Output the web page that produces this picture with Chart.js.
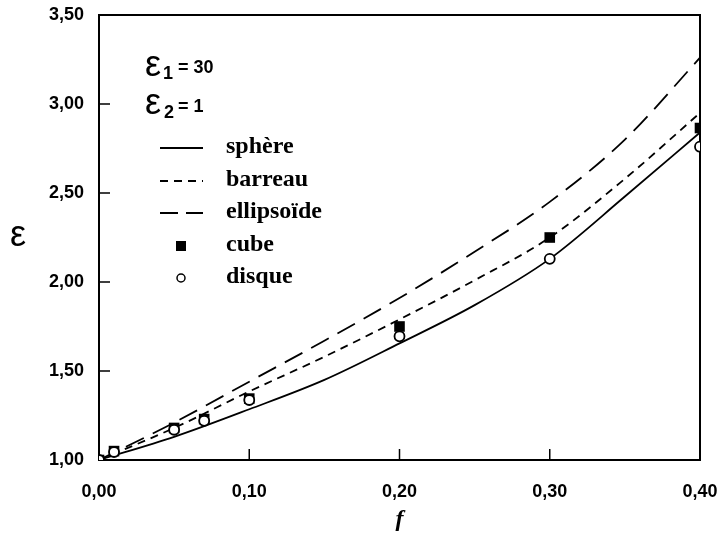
<!DOCTYPE html>
<html><head><meta charset="utf-8">
<script src="https://cdn.jsdelivr.net/npm/chart.js@4.4.0/dist/chart.umd.min.js"></script>
<style>html,body{margin:0;padding:0;background:#fff}#wrap{width:722px;height:543px;position:relative}</style>
</head><body><div id="wrap"><canvas id="c" width="722" height="543" style="width:722px;height:543px"></canvas></div>
<script>
// Curves
const fCurve    = [0, 0.05, 0.10, 0.15, 0.20, 0.25, 0.30, 0.35, 0.40];
const sphere    = [1.00, 1.13, 1.285, 1.45, 1.655, 1.87, 2.13, 2.48, 2.84];
const barreau   = [1.00, 1.18, 1.385, 1.58, 1.79, 2.01, 2.25, 2.58, 2.95];
const ellipsoide= [1.00, 1.21, 1.44, 1.67, 1.91, 2.17, 2.45, 2.80, 3.26];
// Measured points
const fPoints   = [0, 0.01, 0.05, 0.07, 0.10, 0.20, 0.30, 0.40];
const cube      = [1.00, 1.05, 1.18, 1.23, 1.345, 1.75, 2.25, 2.865];
const disque    = [1.00, 1.045, 1.17, 1.22, 1.337, 1.695, 2.13, 2.76];
// Ticks
const xTicks = [0, 0.1, 0.2, 0.3, 0.4];
const yTicks = [1.0, 1.5, 2.0, 2.5, 3.0, 3.5];
const legendLabels = ['sphère', 'barreau', 'ellipsoïde', 'cube', 'disque'];

const pts = (xs, ys) => xs.map((x, i) => ({x, y: ys[i]}));
const fmt = v => Number(v).toFixed(2).replace('.', ',');

const frame = {
  id: 'frame',
  beforeDatasetsDraw(chart) {
    const {ctx, chartArea: a, scales} = chart;
    ctx.save();
    ctx.strokeStyle = '#000';
    ctx.lineWidth = 2;
    ctx.strokeRect(a.left, a.top, a.right - a.left, a.bottom - a.top);
    ctx.lineWidth = 1.5;
    ctx.beginPath();
    xTicks.forEach(v => {
      const px = scales.x.getPixelForValue(v);
      ctx.moveTo(px, a.bottom); ctx.lineTo(px, a.bottom - 11);
    });
    yTicks.forEach(v => {
      const py = scales.y.getPixelForValue(v);
      ctx.moveTo(a.left, py); ctx.lineTo(a.left + 11, py);
    });
    ctx.stroke();
    ctx.restore();
  },
  afterDraw(chart) {
    const ctx = chart.ctx;
    const a = chart.chartArea;
    ctx.save();
    ctx.fillStyle = '#000';
    ctx.strokeStyle = '#000';
    // y axis title (upright)
    ctx.font = '36px "Liberation Sans"';
    ctx.textAlign = 'center';
    ctx.textBaseline = 'middle';
    ctx.fillText('ε', 18, 236);
    ctx.textAlign = 'left';
    ctx.textBaseline = 'alphabetic';
    // epsilon lines
    ctx.font = '36px "Liberation Sans"';
    ctx.fillText('ε', 145, 76);
    ctx.fillText('ε', 145, 114);
    ctx.font = 'bold 18px "Liberation Sans"';
    ctx.fillText('1', 163, 79);
    ctx.fillText('= 30', 178, 73);
    ctx.fillText('2', 164, 118);
    ctx.fillText('= 1', 178, 112);
    // legend
    const ys = [148, 181, 213, 246, 278];
    const x0 = 160, x1 = 203;
    ctx.lineWidth = 1.8;
    const dashes = [[], [8, 6], [18, 8]];
    for (let i = 0; i < 3; i++) {
      ctx.setLineDash(dashes[i]);
      ctx.beginPath(); ctx.moveTo(x0, ys[i]); ctx.lineTo(x1, ys[i]); ctx.stroke();
    }
    ctx.setLineDash([]);
    ctx.fillRect(176, ys[3] - 5, 10, 10);
    ctx.beginPath(); ctx.lineWidth = 1.5;
    ctx.arc(181, ys[4], 4, 0, Math.PI * 2);
    ctx.fillStyle = '#fff'; ctx.fill(); ctx.stroke();
    ctx.fillStyle = '#000';
    ctx.font = 'bold 24px "Liberation Serif"';
    ctx.textBaseline = 'middle';
    legendLabels.forEach((t, i) => ctx.fillText(t, 226, ys[i] - 1));
    ctx.restore();
  }
};

new Chart(document.getElementById('c'), {
  type: 'scatter',
  data: {
    datasets: [
      {label: 'disque', data: pts(fPoints, disque), showLine: false, pointStyle: 'circle',
       pointRadius: 5, pointBackgroundColor: '#fff', pointBorderColor: '#000', pointBorderWidth: 1.8, order: 0},
      {label: 'cube', data: pts(fPoints, cube), showLine: false, pointStyle: 'rect',
       pointRadius: 7.5, pointBackgroundColor: '#000', pointBorderColor: '#000', pointBorderWidth: 0, order: 1},
      {label: 'sphère', data: pts(fCurve, sphere), showLine: true, pointRadius: 0, borderColor: '#000',
       borderWidth: 1.8, cubicInterpolationMode: 'monotone', order: 2},
      {label: 'barreau', data: pts(fCurve, barreau), showLine: true, pointRadius: 0, borderColor: '#000',
       borderWidth: 1.8, borderDash: [8, 6], cubicInterpolationMode: 'monotone', order: 2},
      {label: 'ellipsoïde', data: pts(fCurve, ellipsoide), showLine: true, pointRadius: 0, borderColor: '#000',
       borderWidth: 1.8, borderDash: [20, 10], cubicInterpolationMode: 'monotone', order: 2}
    ]
  },
  options: {
    responsive: false,
    animation: false,
    devicePixelRatio: 1,
    layout: {padding: {left: 0, right: 22, top: 15, bottom: 0}},
    plugins: {legend: {display: false}, tooltip: {enabled: false}},
    scales: {
      x: {
        type: 'linear', min: 0, max: 0.4,
        afterBuildTicks: s => { s.ticks = xTicks.map(v => ({value: v})); },
        ticks: {callback: v => fmt(v), color: '#000', padding: 21,
                font: {family: '"Liberation Sans"', weight: 'bold', size: 18}, maxRotation: 0, autoSkip: false},
        grid: {display: false, drawTicks: false},
        border: {display: false},
        title: {display: true, text: 'f', color: '#000',
                font: {family: '"Liberation Serif"', style: 'italic', weight: 'bold', size: 24},
                padding: {top: 0, bottom: 9}},
        afterFit: s => { s.height = 83; s.paddingLeft = 0; s.paddingRight = 0; }
      },
      y: {
        type: 'linear', min: 1, max: 3.5,
        afterBuildTicks: s => { s.ticks = yTicks.map(v => ({value: v})); },
        ticks: {callback: v => fmt(v), color: '#000', padding: 15,
                font: {family: '"Liberation Sans"', weight: 'bold', size: 18}, autoSkip: false},
        grid: {display: false, drawTicks: false},
        border: {display: false},
        title: {display: false},
        afterFit: s => { s.width = 99; s.paddingTop = 0; s.paddingBottom = 0; }
      }
    }
  },
  plugins: [frame]
});
</script>
</body></html>
